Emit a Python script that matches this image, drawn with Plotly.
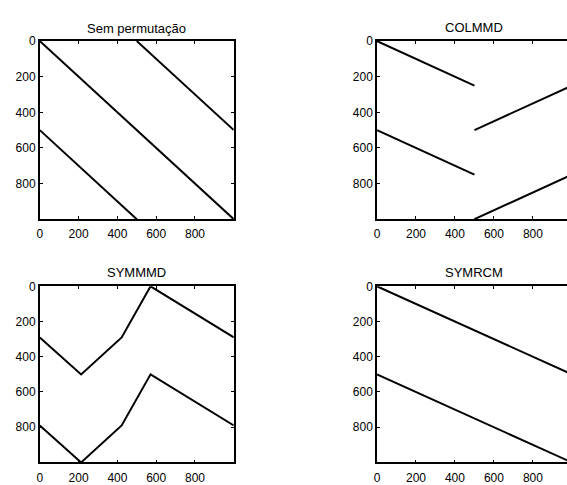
import plotly.graph_objects as go

W, H = 567, 485

titles = ["Sem permutação", "COLMMD", "SYMMMD", "SYMRCM"]

# Each subplot: list of polylines (columns, rows)
orig_lines = [
    ([0, 1000], [0, 1000]),
    ([500, 1000], [0, 500]),
    ([0, 500], [500, 1000]),
]
colmmd_lines = [
    ([0, 500], [0, 250]),
    ([0, 500], [500, 750]),
    ([500, 1000], [500, 250]),
    ([500, 1000], [1000, 750]),
]
symmmd_lines = [
    ([0, 213, 422, 571, 1000], [290, 500, 290, 0, 290]),
    ([0, 213, 422, 571, 1000], [790, 1000, 790, 500, 790]),
]
symrcm_lines = [
    ([0, 1000], [0, 500]),
    ([0, 1000], [500, 1000]),
]
tick_vals = [0, 200, 400, 600, 800]
tick_text = ["0", "200", "400", "600", "800"]

panels = [orig_lines, colmmd_lines, symmmd_lines, symrcm_lines]

# pixel boxes (left, right, top, bottom)
boxes = [
    (37, 232, 35, 218),
    (376, 567, 35, 218),
    (37, 232, 287, 468),
    (376, 567, 287, 468),
]
title_pos = [(134.5, 22), (474, 21), (134.5, 273), (474, 273)]

fig = go.Figure()
font = dict(family="Liberation Sans, Arial, sans-serif", color="black")

for i, (lines, box) in enumerate(zip(panels, boxes)):
    n = i + 1
    xa = "x" if n == 1 else f"x{n}"
    ya = "y" if n == 1 else f"y{n}"
    for xs, ys in lines:
        fig.add_trace(go.Scatter(x=xs, y=ys, mode="lines", xaxis=xa, yaxis=ya,
                                 line=dict(color="black", width=2),
                                 showlegend=False, hoverinfo="skip"))
    l, r, t, b = box
    right = i in (1, 3)
    xrange = [0, 975] if right else [0, 1000]
    xkey = "xaxis" if n == 1 else f"xaxis{n}"
    ykey = "yaxis" if n == 1 else f"yaxis{n}"
    fig.layout[xkey] = dict(
        domain=[l / W, r / W], range=xrange, anchor=ya,
        tickvals=tick_vals, ticktext=tick_text, ticks="inside", ticklen=3,
        tickwidth=1, tickcolor="black",
        showline=True, linecolor="black", linewidth=1.5, mirror="ticks",
        showgrid=False, zeroline=False, tickfont=dict(size=12, **font),
        ticklabelstandoff=3,
    )
    fig.layout[ykey] = dict(
        domain=[1 - b / H, 1 - t / H], range=[1000, 0], anchor=xa,
        tickvals=tick_vals, ticktext=tick_text, ticks="inside", ticklen=3,
        tickwidth=1, tickcolor="black",
        showline=True, linecolor="black", linewidth=1.5,
        mirror=False if right else "ticks",
        showgrid=False, zeroline=False, tickfont=dict(size=12, **font),
    )
    tx, ty = title_pos[i]
    fig.add_annotation(text=titles[i], x=tx / W, y=1 - ty / H, xref="paper",
                       yref="paper", showarrow=False, xanchor="center",
                       yanchor="middle", font=dict(size=13, **font))

fig.update_layout(width=W, height=H, margin=dict(l=0, r=0, t=0, b=0),
                  paper_bgcolor="white", plot_bgcolor="white")
fig.write_html("out.html")
